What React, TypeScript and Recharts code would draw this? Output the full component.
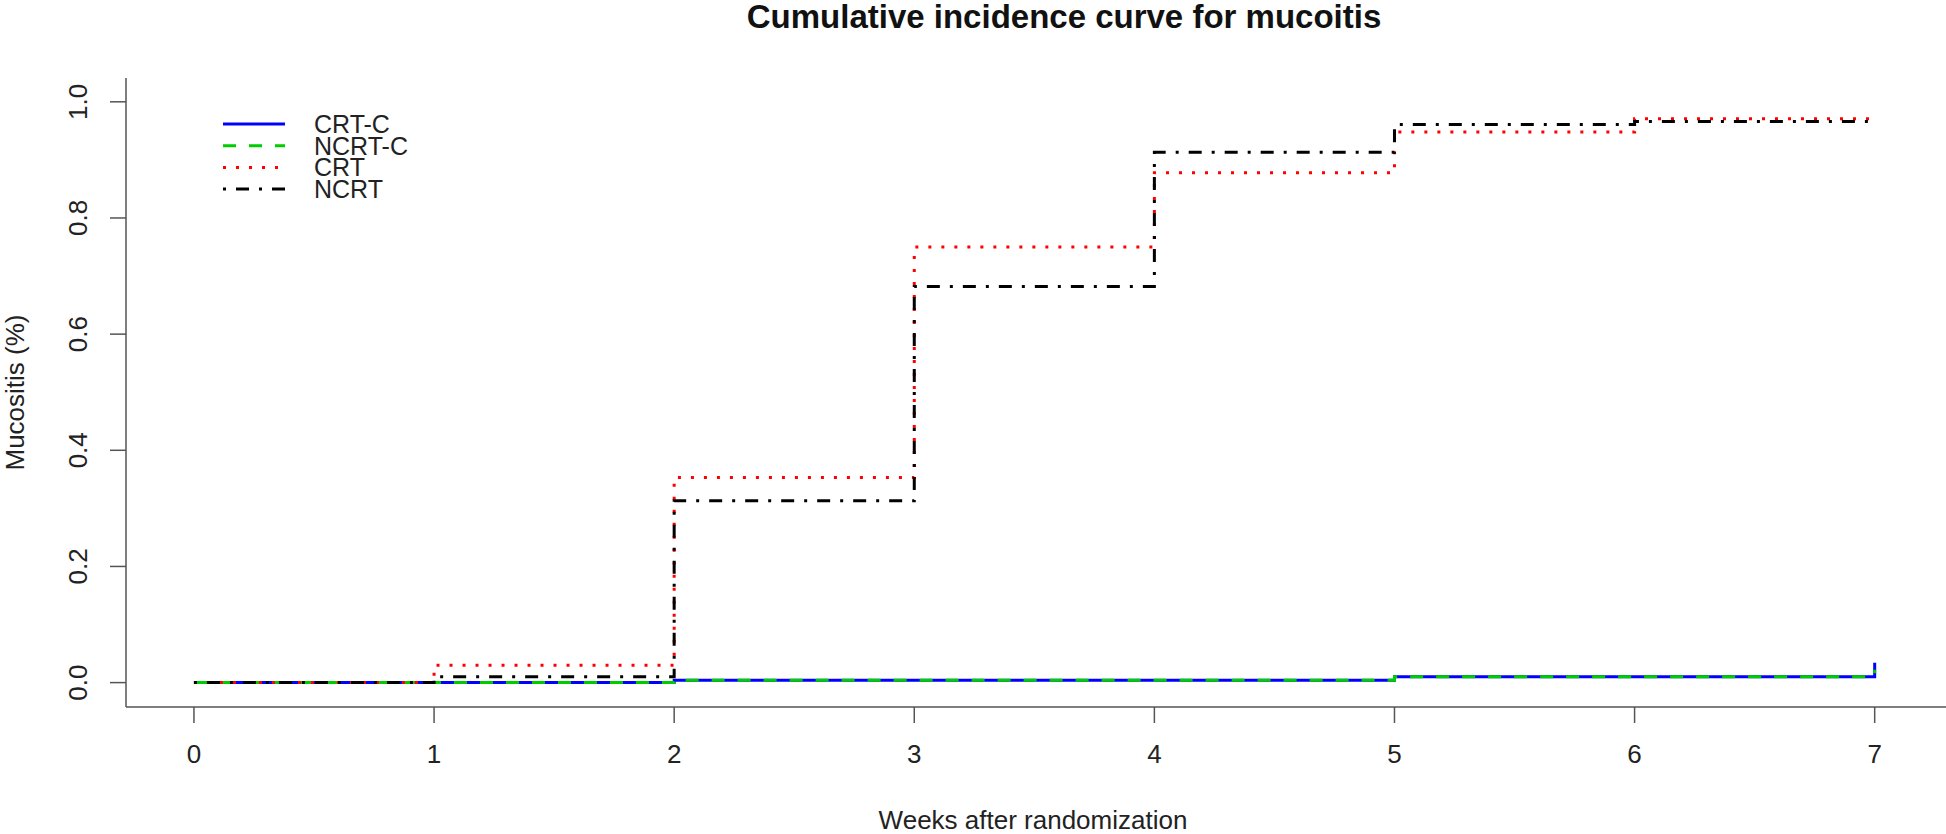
import { LineChart, Line, XAxis, YAxis, Legend, Label } from "recharts"

const weeks = [0, 1, 2, 3, 4, 5, 6, 7]
const crtC = [0, 0, 0.004, 0.004, 0.004, 0.01, 0.01, 0.034]
const ncrtC = [0, 0, 0.004, 0.004, 0.004, 0.01, 0.01, 0.022]
const crt = [0, 0.03, 0.353, 0.75, 0.878, 0.948, 0.971, 0.971]
const ncrt = [0, 0.01, 0.313, 0.682, 0.913, 0.961, 0.966, 0.966]
const xTicks = [0, 1, 2, 3, 4, 5, 6, 7]
const yTicks = [0, 0.2, 0.4, 0.6, 0.8, 1.0]

const series = [
  { key: "crtC", name: "CRT-C", color: "#0000ff", dash: undefined },
  { key: "ncrtC", name: "NCRT-C", color: "#00cd00", dash: "13 13" },
  { key: "crt", name: "CRT", color: "#ff0000", dash: "3 10" },
  { key: "ncrt", name: "NCRT", color: "#000000", dash: "3 10 13 10" },
]

const rows = weeks.map((w, i) => ({
  week: w,
  crtC: crtC[i],
  ncrtC: ncrtC[i],
  crt: crt[i],
  ncrt: ncrt[i],
}))

const font = "'Liberation Sans', Arial, sans-serif"
const axisColor = "#555"

function YTick(props: any) {
  const { y, payload } = props
  return (
    <text
      x={78}
      y={y}
      transform={`rotate(-90, 78, ${y})`}
      textAnchor="middle"
      dominantBaseline="central"
      fontSize={26}
      fontFamily={font}
      fill="#222"
    >
      {Number(payload.value).toFixed(1)}
    </text>
  )
}

// legend drawn as one small svg, rows tight like the R legend
function LegendBox() {
  return (
    <svg width={240} height={120} style={{ display: "block", overflow: "visible" }}>
      {series.map((s, i) => {
        const y = 23 + i * 21.7
        return (
          <g key={s.key}>
            <line x1={8} x2={70} y1={y} y2={y} stroke={s.color} strokeWidth={3} strokeDasharray={s.dash} />
            <text x={99} y={y} dominantBaseline="central" fontSize={25} fontFamily={font} fill="#222">
              {s.name}
            </text>
          </g>
        )
      })}
    </svg>
  )
}

export default function App() {
  return (
    <div style={{ position: "absolute", left: 0, top: 0, width: 1946, height: 834, background: "#fff" }}>
      <div
        style={{
          position: "absolute",
          left: 0,
          top: 0,
          width: 2128,
          textAlign: "center",
          fontFamily: font,
          fontWeight: "bold",
          fontSize: 33,
          lineHeight: "33px",
          color: "#111",
          zIndex: 2,
        }}
      >
        Cumulative incidence curve for mucoitis
      </div>
      <LineChart width={1946} height={834} data={rows} margin={{ top: 78, right: 0, bottom: 0, left: 0 }}>
        <XAxis
          dataKey="week"
          type="number"
          domain={[-0.283, 7.297]}
          allowDataOverflow
          ticks={xTicks}
          height={127}
          tickSize={16}
          tickMargin={22}
          stroke={axisColor}
          strokeWidth={1.5}
          tick={{ fontSize: 26, fontFamily: font, fill: "#222" }}
        >
          <Label
            content={(p: any) => {
              const vb = p.viewBox
              return (
                <text
                  x={vb.x + vb.width / 2 - 3}
                  y={829}
                  textAnchor="middle"
                  fontSize={26}
                  fontFamily={font}
                  fill="#222"
                >
                  Weeks after randomization
                </text>
              )
            }}
          />
        </XAxis>
        <YAxis
          type="number"
          domain={[-0.042, 1.041]}
          allowDataOverflow
          ticks={yTicks}
          width={126}
          tickSize={16}
          tickMargin={0}
          stroke={axisColor}
          strokeWidth={1.5}
          tick={<YTick />}
        >
          <Label
            content={(p: any) => {
              const vb = p.viewBox
              const cy = vb.y + vb.height / 2
              return (
                <text
                  x={15}
                  y={cy}
                  transform={`rotate(-90, 15, ${cy})`}
                  textAnchor="middle"
                  dominantBaseline="central"
                  fontSize={26}
                  fontFamily={font}
                  fill="#222"
                >
                  Mucositis (%)
                </text>
              )
            }}
          />
        </YAxis>
        <Legend
          layout="vertical"
          align="center"
          verticalAlign="middle"
          content={() => <LegendBox />}
          wrapperStyle={{ top: 101, left: 215, width: 240, height: 120 }}
        />
        {series.map((s) => (
          <Line
            key={s.key}
            dataKey={s.key}
            name={s.name}
            type="stepAfter"
            stroke={s.color}
            strokeWidth={3}
            strokeDasharray={s.dash}
            dot={false}
            activeDot={false}
            isAnimationActive={false}
          />
        ))}
      </LineChart>
    </div>
  )
}
